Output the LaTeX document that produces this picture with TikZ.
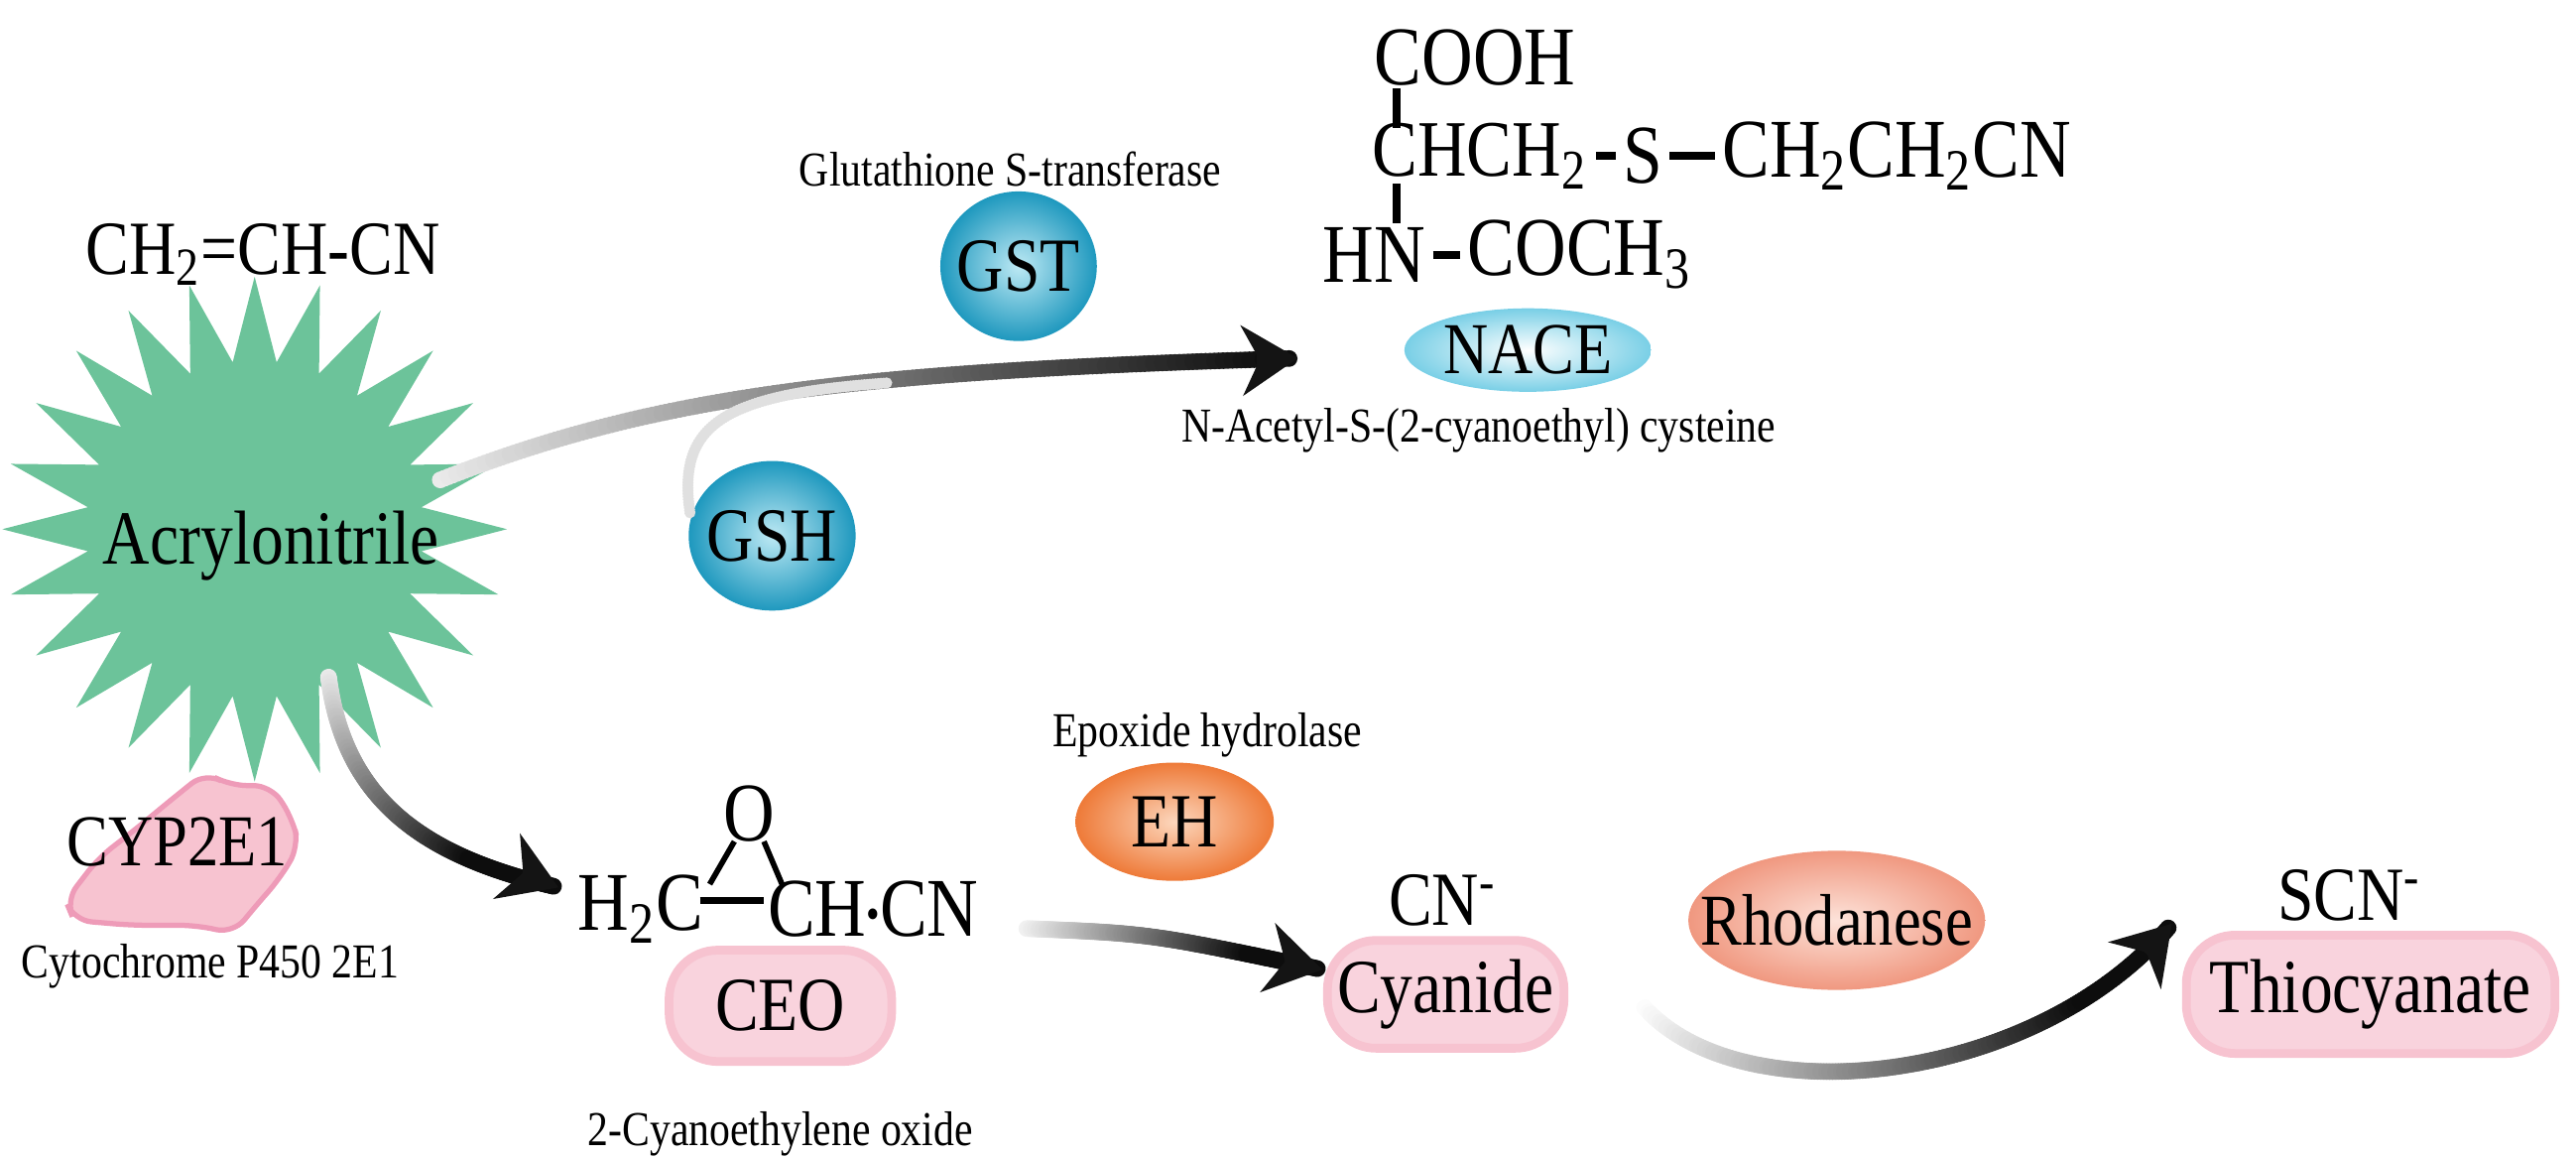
\documentclass[tikz,border=0pt]{standalone}
\usepackage{fontspec}
\setmainfont{Liberation Serif}[FakeStretch=0.85]
\usetikzlibrary{shapes.geometric,decorations.markings,calc,arrows.meta}
\definecolor{stargreen}{HTML}{6CC39A}
\definecolor{tealdk}{HTML}{1E98BE}
\definecolor{teallt}{HTML}{BDE9F4}
\definecolor{pinkf}{HTML}{F7C3D0}
\definecolor{pinkd}{HTML}{EE9BB8}
\definecolor{pinkc}{HTML}{F9D3DD}
\definecolor{orgdk}{HTML}{EE7A38}
\definecolor{orglt}{HTML}{FCD6BC}
\definecolor{saldk}{HTML}{F09880}
\definecolor{sallt}{HTML}{FDE3DA}
\definecolor{nacedk}{HTML}{79CFE6}
\begin{document}
\begin{tikzpicture}[x=0.0166cm,y=-0.0166cm,
  big/.style={font=\fontsize{22}{26}\selectfont, inner sep=0pt},
  chem/.style={font=\fontsize{24}{28}\selectfont, inner sep=0pt},
  small/.style={font=\fontsize{14}{17}\selectfont, inner sep=0pt},
  ball/.style={ellipse, inner sep=0pt, shading=radial, inner color=teallt, outer color=tealdk, font=\fontsize{22}{26}\selectfont},
  pill/.style={rounded corners=14pt, fill=pinkc, draw=pinkf, line width=2.5pt, font=\fontsize{22}{26}\selectfont, inner sep=0pt},
  grad/.style 2 args={decoration={markings,
     mark=between positions 0 and 0.99 step 0.005 with {
       \pgfmathtruncatemacro\cc{min(95,#1+\pgfkeysvalueof{/pgf/decoration/mark info/sequence number}*#2)}
       \fill[black!\cc!white] (0,0) circle (2.4pt);}},
     postaction={decorate}},
  head/.style={line width=4.8pt, draw=black!92, -{Stealth[length=16pt,width=20pt,inset=5pt]}, shorten <=0pt},
  bond/.style={line width=2.2pt}]
\useasboundingbox (0,0) rectangle (1568,705);

% Acrylonitrile
\node[big] (form) at (160,155) {CH\textsubscript{2}=CH-CN};
\node[star, star points=24, star point ratio=1.5, fill=stargreen, minimum size=5.1cm, inner sep=0pt] (star) at (155,322) {};
\node[big] (acr) at (165,332) {Acrylonitrile};

% GST / GSH
\node[small] (gstl) at (615,103) {Glutathione S-transferase};
\node[ball, minimum width=45pt, minimum height=43pt, inner xsep=-3pt] (gst) at (620,162) {GST};
\node[ball, minimum width=48pt, minimum height=43pt, inner xsep=-3pt] (gsh) at (470,326) {GSH};

% NACE structure
\node[chem] (cooh) at (898,35) {COOH};
\node[big, font=\fontsize{23}{27}\selectfont, anchor=west] (chch) at (835,95) {CHCH\textsubscript{2}};
\node[chem] (s) at (1000,95) {S};
\node[chem, anchor=west] (ch2cn) at (1048,95) {CH\textsubscript{2}CH\textsubscript{2}CN};
\node[chem, anchor=west] (hn) at (805,155) {HN};
\node[chem, anchor=west] (coch) at (893,155) {COCH\textsubscript{3}};
\draw[bond] (850,54) -- (850,78);
\draw[bond] (850,112) -- (850,136);
\draw[bond] ($(chch.east)+(5,0)$) -- ($(s.west)+(-4,0)$);
\draw[bond] ($(s.east)+(4,0)$) -- ($(ch2cn.west)+(-4,0)$);
\draw[bond] ($(hn.east)+(4,0)$) -- ($(coch.west)+(-4,0)$);
\node[ellipse, minimum width=71pt, minimum height=24pt, shading=radial, inner color=white, outer color=nacedk, font=\fontsize{21}{25}\selectfont, inner sep=0pt] (nace) at (930,213) {NACE};
\node[small] (nacel) at (900,262) {N-Acetyl-S-(2-cyanoethyl) cysteine};

% CYP2E1
\draw[fill=pinkf, draw=pinkd, line width=1.5pt, rounded corners=5pt]
  (40,548) -- (60,522) -- (82,505) -- (105,486) -- (125,470) -- (140,478) -- (165,478) -- (178,498) -- (182,515) -- (170,535) -- (155,552) -- (142,568) -- (120,563) -- (80,563) -- (45,560) -- cycle;
\node[font=\fontsize{21}{25}\selectfont, inner sep=0pt] (cyp) at (108,512) {CYP2E1};
\node[small] (cypl) at (128,588) {Cytochrome P450 2E1};

% Epoxide
\node[chem] (o) at (456,495) {O};
\node[chem] (h2c) at (390,553) {H\textsubscript{2}C};
\node[chem, anchor=west] (chcn) at (467,553) {CH{\fontsize{13}{13}\selectfont\raisebox{2pt}{\textbullet}}CN};
\draw[bond] (426,548) -- (465,548);
\draw[bond, line width=1.6pt] (432,538) -- (447,512);
\draw[bond, line width=1.6pt] (465,512) -- (476,538);
\node[pill, minimum width=64pt, minimum height=32pt] (ceo) at (475,612) {CEO};
\node[small] (ceol) at (475,690) {2-Cyanoethylene oxide};

% EH
\node[small] (ehl) at (735,447) {Epoxide hydrolase};
\node[ellipse, minimum width=57pt, minimum height=34pt, shading=radial, inner color=orglt, outer color=orgdk, font=\fontsize{22}{26}\selectfont, inner sep=0pt] (eh) at (715,500) {EH};

% Cyanide
\node[big] (cnm) at (878,548) {CN\textsuperscript{-}};
\node[pill, minimum width=68pt, minimum height=31pt] (cyan) at (880,605) {Cyanide};

% Rhodanese
\node[ellipse, minimum width=80pt, minimum height=40pt, shading=radial, inner color=sallt, outer color=saldk, font=\fontsize{21}{25}\selectfont, inner xsep=-9pt, inner ysep=0pt] (rho) at (1118,560) {Rhodanese};

% Thiocyanate
\node[big] (scn) at (1430,545) {SCN\textsuperscript{-}};
\node[pill, minimum width=106pt, minimum height=34pt] (thio) at (1443,605) {Thiocyanate};

% arrows
\coordinate (a1) at (268,292);
\coordinate (a1e) at (790,218);
\coordinate (a1h) at (765,219);
\path[grad={8}{0.45}] (a1) .. controls (400,240) and (520,226) .. (a1e);
\draw[head] (a1h) -- (a1e);
\coordinate (g1) at (420,312);
\coordinate (g1e) at (540,233);
\path[decoration={markings, mark=between positions 0 and 1 step 0.01 with {\fill[black!12!white] (0,0) circle (1.6pt);}}, postaction={decorate}]
  (g1) .. controls (412,258) and (440,240) .. (g1e);
\coordinate (c1) at (200,412);
\coordinate (c1e) at (340,540);
\coordinate (c1h) at (318,531);
\path[grad={8}{0.6}] (c1) .. controls (210,490) and (262,522) .. (c1e);
\draw[head] (c1h) -- (c1e);
\coordinate (e1) at (625,565);
\coordinate (e1e) at (805,590);
\coordinate (e1h) at (782,585);
\path[grad={5}{0.6}] (e1) .. controls (700,568) .. (e1e);
\draw[head] (e1h) -- (e1e);
\coordinate (r1) at (1000,612);
\coordinate (r1e) at (1322,562);
\coordinate (r1h) at (1306,580);
\path[grad={0}{0.6}] (r1) .. controls (1060,680) and (1240,660) .. (r1e);
\draw[head] (r1h) -- (r1e);
\end{tikzpicture}
\end{document}
